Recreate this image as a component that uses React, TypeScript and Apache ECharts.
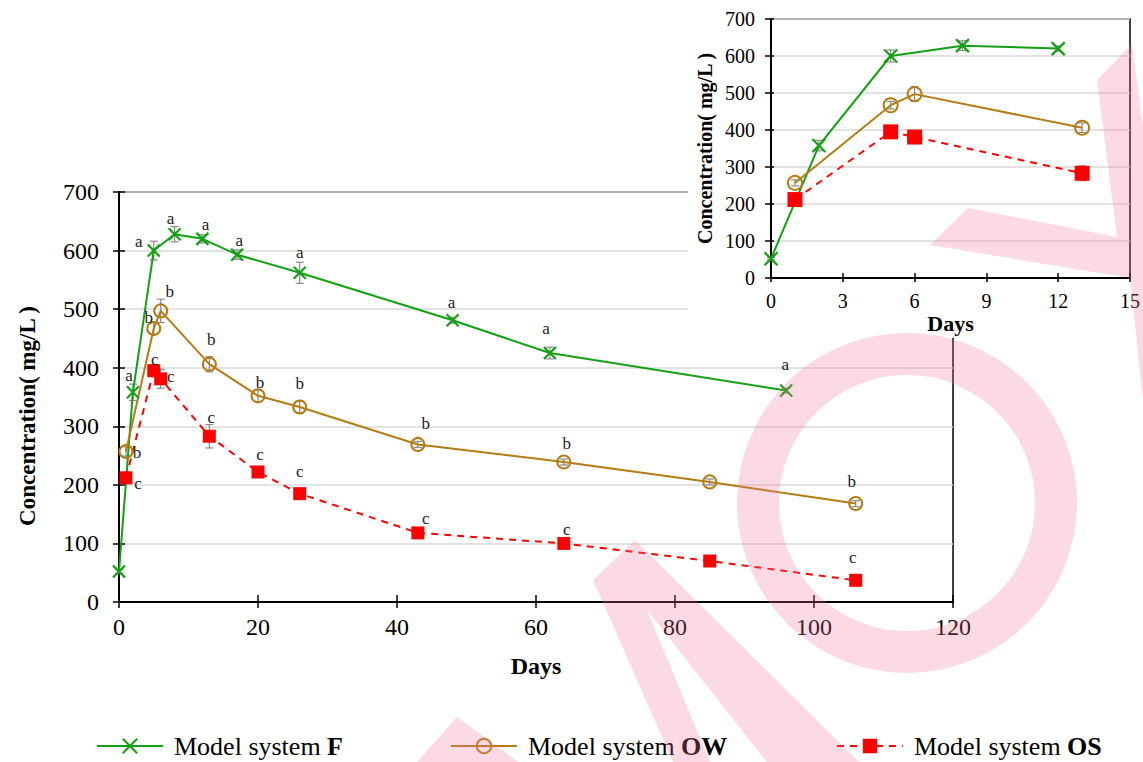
import React, { useEffect, useRef } from 'react';
import * as echarts from 'echarts';

// ---------------- data ----------------
const daysF = [0, 2, 5, 8, 12, 17, 26, 48, 62, 96];
const concF = [52, 358, 600, 628, 620, 593, 562, 481, 425, 361];
const errF = [3, 14, 16, 13, 7, 8, 18, 5, 10, 4];
const lettersF = ['', 'a', 'a', 'a', 'a', 'a', 'a', 'a', 'a', 'a'];

const daysOW = [1, 5, 6, 13, 20, 26, 43, 64, 85, 106];
const concOW = [257, 467, 497, 406, 352, 333, 269, 239, 205, 168];
const errOW = [8, 10, 20, 13, 10, 10, 5, 5, 5, 5];
const lettersOW = ['b', 'b', 'b', 'b', 'b', 'b', 'b', 'b', '', 'b'];

const daysOS = [1, 5, 6, 13, 20, 26, 43, 64, 85, 106];
const concOS = [212, 395, 381, 283, 222, 185, 118, 100, 70, 37];
const errOS = [8, 10, 16, 20, 6, 6, 5, 5, 5, 5];
const lettersOS = ['c', 'c', 'c', 'c', 'c', 'c', 'c', 'c', '', 'c'];

const seriesNames = ['Model system F', 'Model system OW', 'Model system OS'];
const legendBold: Record<string, string> = {
  'Model system F': 'F',
  'Model system OW': 'OW',
  'Model system OS': 'OS',
};

const mainXTicks = { min: 0, max: 120, interval: 20 };
const mainYTicks = { min: 0, max: 700, interval: 100 };
const insetXTicks = { min: 0, max: 15, interval: 3 };
const insetYTicks = { min: 0, max: 700, interval: 100 };
const insetMaxDay = 15;

// ---------------- styles (label placement offsets, px) ----------------
const labelOffF = [[0, 0], [-4, -17], [-15, -9], [-4, -16], [3, -14], [2, -14], [0, -20], [-1, -18], [-4, -25], [-1, -26]];
const labelOffOW = [[11, 1], [-5, -11], [9, -19], [2, -25], [2, -13], [0, -23], [8, -21], [3, -19], [0, 0], [-4, -22]];
const labelOffOS = [[12, 6], [1, -11], [10, -2], [2, -19], [2, -17], [0, -22], [8, -14], [3, -14], [0, 0], [-3, -23]];

const FONT = 'Liberation Serif, serif';
const GREEN = '#14a014';
const BROWN = '#b37c14';
const RED = '#ff0000';
const XPATH = 'path://M0,0L10,10M10,0L0,10';
const PINK = 'rgba(242,120,150,0.27)';

function errorSeries(days: number[], conc: number[], err: number[], axis: number, z: number, maxDay = Infinity) {
  const data = days
    .map((d, i) => [d, conc[i] - err[i], conc[i] + err[i]])
    .filter((r) => r[0] <= maxDay);
  return {
    type: 'custom',
    xAxisIndex: axis,
    yAxisIndex: axis,
    z,
    silent: true,
    data,
    renderItem: (params: any, api: any) => {
      const x = api.value(0);
      const p1 = api.coord([x, api.value(1)]);
      const p2 = api.coord([x, api.value(2)]);
      const w = 4;
      const st = { stroke: '#8a8a8a', lineWidth: 1.2 };
      return {
        type: 'group',
        children: [
          { type: 'line', shape: { x1: p1[0], y1: p1[1], x2: p2[0], y2: p2[1] }, style: st },
          { type: 'line', shape: { x1: p1[0] - w, y1: p1[1], x2: p1[0] + w, y2: p1[1] }, style: st },
          { type: 'line', shape: { x1: p2[0] - w, y1: p2[1], x2: p2[0] + w, y2: p2[1] }, style: st },
        ],
      };
    },
  };
}

function lineSeries(opts: {
  name: string; days: number[]; conc: number[]; letters?: string[]; offs?: number[][];
  color: string; symbol: string; size: number; dashed: boolean; axis: number; z: number; maxDay?: number;
  hollow?: boolean; cross?: boolean;
}) {
  const maxDay = opts.maxDay ?? Infinity;
  const data: any[] = [];
  opts.days.forEach((d, i) => {
    if (d > maxDay) return;
    const item: any = { value: [d, opts.conc[i]] };
    if (opts.letters && opts.letters[i]) {
      item.label = {
        show: true,
        position: 'inside',
        offset: opts.offs ? opts.offs[i] : [0, 0],
        formatter: opts.letters[i],
        fontFamily: FONT,
        fontSize: 17,
        color: '#222',
      };
    }
    data.push(item);
  });
  let itemStyle: any;
  if (opts.cross) {
    itemStyle = { color: opts.color, borderColor: opts.color, borderWidth: 2.2 };
  } else if (opts.hollow) {
    itemStyle = { color: 'rgba(255,255,255,0)', borderColor: opts.color, borderWidth: 2 };
  } else {
    itemStyle = { color: opts.color, borderWidth: 0 };
  }
  return {
    type: 'line',
    name: opts.name,
    xAxisIndex: opts.axis,
    yAxisIndex: opts.axis,
    z: opts.z,
    data,
    symbol: opts.symbol,
    symbolSize: opts.size,
    showAllSymbol: true,
    lineStyle: { color: opts.color, width: 2, type: opts.dashed ? [7, 6] : 'solid' },
    itemStyle,
    emphasis: { disabled: true },
  };
}

function valueAxis(grid: number, ticks: any, extra: any) {
  return {
    type: 'value',
    gridIndex: grid,
    min: ticks.min,
    max: ticks.max,
    interval: ticks.interval,
    ...extra,
  };
}

function buildOption() {
  const axisLabelMain = { fontFamily: FONT, fontSize: 24, color: '#000' };
  const axisLabelInset = { fontFamily: FONT, fontSize: 20, color: '#000' };
  const blackLine = { show: true, onZero: false, lineStyle: { color: '#000', width: 2 } };
  const hiddenDup = {
    axisLine: { show: false },
    axisLabel: { show: false },
    splitLine: { show: false },
  };

  const xAxis = [
    valueAxis(0, mainXTicks, {
      position: 'bottom',
      axisLine: blackLine,
      axisTick: { show: true, inside: false, length: 6, lineStyle: { color: '#000', width: 1.5 } },
      axisLabel: { ...axisLabelMain, margin: 13 },
      splitLine: { show: false },
      name: 'Days',
      nameLocation: 'middle',
      nameGap: 52,
      nameTextStyle: { fontFamily: FONT, fontSize: 24, fontWeight: 'bold', color: '#000' },
    }),
    valueAxis(0, mainXTicks, {
      position: 'bottom',
      axisTick: { show: true, inside: true, length: 7, lineStyle: { color: '#000', width: 1.5 } },
      ...hiddenDup,
    }),
    valueAxis(1, insetXTicks, {
      position: 'bottom',
      z: 3,
      axisLine: blackLine,
      axisTick: { show: true, inside: false, length: 4, lineStyle: { color: '#000', width: 1.5 } },
      axisLabel: { ...axisLabelInset, margin: 13 },
      splitLine: { show: false },
      name: 'Days',
      nameLocation: 'middle',
      nameGap: 34,
      nameTextStyle: { fontFamily: FONT, fontSize: 22, fontWeight: 'bold', color: '#000' },
    }),
    valueAxis(1, insetXTicks, {
      position: 'bottom',
      z: 3,
      axisTick: { show: true, inside: true, length: 5, lineStyle: { color: '#000', width: 1.5 } },
      ...hiddenDup,
    }),
  ];

  const yAxis = [
    valueAxis(0, mainYTicks, {
      position: 'left',
      axisLine: blackLine,
      axisTick: { show: true, inside: false, length: 6, lineStyle: { color: '#000', width: 1.5 } },
      axisLabel: { ...axisLabelMain, margin: 20 },
      splitLine: { show: true, lineStyle: { color: '#d9d9d9', width: 1.5 } },
      name: 'Concentration( mg/L )',
      nameLocation: 'middle',
      nameGap: 80,
      nameTextStyle: { fontFamily: FONT, fontSize: 23, fontWeight: 'bold', color: '#000', padding: [0, 38, 0, 0] },
    }),
    valueAxis(0, mainYTicks, {
      position: 'left',
      axisTick: { show: true, inside: true, length: 6, lineStyle: { color: '#000', width: 1.5 } },
      ...hiddenDup,
    }),
    valueAxis(1, insetYTicks, {
      position: 'left',
      z: 3,
      axisLine: blackLine,
      axisTick: { show: true, inside: false, length: 6, lineStyle: { color: '#000', width: 1.5 } },
      axisLabel: { ...axisLabelInset, margin: 16 },
      splitLine: { show: true, lineStyle: { color: '#d9d9d9', width: 1.5 } },
      name: 'Concentration( mg/L )',
      nameLocation: 'middle',
      nameGap: 56,
      nameTextStyle: { fontFamily: FONT, fontSize: 20, fontWeight: 'bold', color: '#000' },
    }),
    valueAxis(1, insetYTicks, {
      position: 'left',
      z: 3,
      axisTick: { show: true, inside: true, length: 3, lineStyle: { color: '#000', width: 1.5 } },
      ...hiddenDup,
    }),
  ];

  const series: any[] = [
    // main chart
    errorSeries(daysF, concF, errF, 0, 1.5),
    errorSeries(daysOW, concOW, errOW, 0, 1.5),
    errorSeries(daysOS, concOS, errOS, 0, 1.5),
    lineSeries({ name: seriesNames[0], days: daysF, conc: concF, letters: lettersF, offs: labelOffF, color: GREEN, symbol: XPATH, size: 12, dashed: false, axis: 0, z: 2, cross: true }),
    lineSeries({ name: seriesNames[1], days: daysOW, conc: concOW, letters: lettersOW, offs: labelOffOW, color: BROWN, symbol: 'circle', size: 13, dashed: false, axis: 0, z: 2, hollow: true }),
    lineSeries({ name: seriesNames[2], days: daysOS, conc: concOS, letters: lettersOS, offs: labelOffOS, color: RED, symbol: 'rect', size: 13, dashed: true, axis: 0, z: 2 }),
    // inset
    errorSeries(daysF, concF, errF, 2, 4, insetMaxDay),
    errorSeries(daysOW, concOW, errOW, 2, 4, insetMaxDay),
    errorSeries(daysOS, concOS, errOS, 2, 4, insetMaxDay),
    lineSeries({ name: seriesNames[0], days: daysF, conc: concF, color: GREEN, symbol: XPATH, size: 13, dashed: false, axis: 2, z: 5, maxDay: insetMaxDay, cross: true }),
    lineSeries({ name: seriesNames[1], days: daysOW, conc: concOW, color: BROWN, symbol: 'circle', size: 14, dashed: false, axis: 2, z: 5, maxDay: insetMaxDay, hollow: true }),
    lineSeries({ name: seriesNames[2], days: daysOS, conc: concOS, color: RED, symbol: 'rect', size: 15, dashed: true, axis: 2, z: 5, maxDay: insetMaxDay }),
  ];

  const legendBase = {
    top: 727,
    itemWidth: 66,
    itemHeight: 18,
    selectedMode: false,
    formatter: (name: string) => `{n|Model system }{b|${legendBold[name]}}`,
    textStyle: {
      fontFamily: FONT,
      fontSize: 26,
      lineHeight: 28,
      color: '#000',
      padding: [0, 0, 0, 6],
      rich: {
        n: { fontFamily: FONT, fontSize: 26, lineHeight: 28, color: '#000' },
        b: { fontFamily: FONT, fontSize: 26, lineHeight: 28, fontWeight: 'bold', color: '#000' },
      },
    },
  };
  const legend = [
    { ...legendBase, left: 91, data: [seriesNames[0]] },
    { ...legendBase, left: 445, data: [seriesNames[1]] },
    { ...legendBase, left: 831, data: [seriesNames[2]] },
  ];

  const graphic = [
    // inset background panel
    { type: 'rect', silent: true, z: 1, shape: { x: 688, y: 0, width: 455, height: 338 }, style: { fill: '#fff' } },
    // watermark
    { type: 'ring', silent: true, z: 30, shape: { cx: 907, cy: 503, r: 170, r0: 128 }, style: { fill: PINK } },
    {
      type: 'polygon', silent: true, z: 30,
      shape: { points: [[593, 580], [635, 540], [859, 762], [767, 762], [647, 610], [710, 762], [673, 762]] },
      style: { fill: PINK },
    },
    {
      type: 'polygon', silent: true, z: 30,
      shape: { points: [[417, 762], [457, 717], [518, 762]] },
      style: { fill: PINK },
    },
    {
      type: 'polygon', silent: true, z: 30,
      shape: { points: [[930, 245], [968, 208], [1117, 237], [1097, 80], [1132, 44], [1200, 560], [1160, 560], [1130, 278]] },
      style: { fill: PINK },
    },
  ];

  return {
    animation: false,
    backgroundColor: '#fff',
    textStyle: { fontFamily: FONT },
    grid: [
      { left: 119, top: 192, width: 834, height: 410, show: true, borderColor: '#000', borderWidth: 1.5, z: 0 },
      { left: 771, top: 19, width: 361, height: 259, show: true, borderColor: '#000', borderWidth: 1.5, z: 3, backgroundColor: 'rgba(0,0,0,0)' },
    ],
    xAxis,
    yAxis,
    legend,
    series,
    graphic,
  };
}

export default function App() {
  const ref = useRef<HTMLDivElement>(null);
  useEffect(() => {
    document.body.style.margin = '0';
    const chart = echarts.init(ref.current!, null, { renderer: 'svg' });
    chart.setOption(buildOption() as any);
    return () => chart.dispose();
  }, []);
  return <div ref={ref} style={{ width: 1143, height: 762 }} />;
}
